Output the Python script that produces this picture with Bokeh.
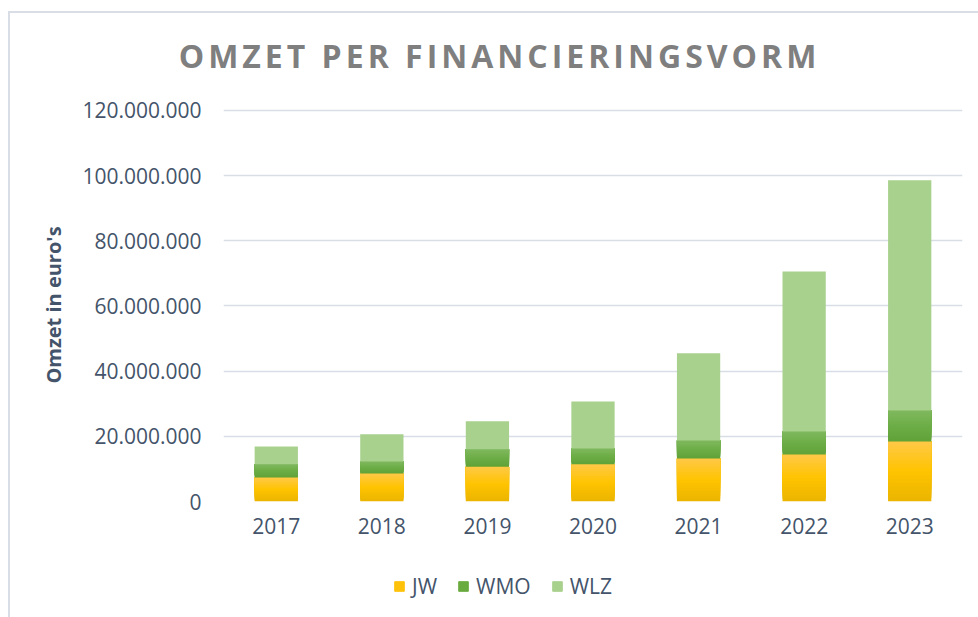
from bokeh.plotting import figure
from bokeh.layouts import column
from bokeh.models import (ColumnDataSource, Range1d, FixedTicker, Legend, LegendItem, Div)
from bokeh.embed import file_html
from bokeh.resources import INLINE

# ---- data ----
title_text = "OMZET PER FINANCIERINGSVORM"
y_label = "Omzet in euro's"
years = ["2017", "2018", "2019", "2020", "2021", "2022", "2023"]
jw = [7_400_000, 8_600_000, 10_700_000, 11_400_000, 13_200_000, 14_400_000, 18_400_000]
wmo = [4_000_000, 3_700_000, 5_300_000, 4_900_000, 5_500_000, 7_100_000, 9_500_000]
wlz = [5_500_000, 8_300_000, 8_600_000, 14_400_000, 26_800_000, 49_100_000, 70_700_000]
series = ["JW", "WMO", "WLZ"]
y_ticks = [0, 20_000_000, 40_000_000, 60_000_000, 80_000_000, 100_000_000, 120_000_000]
y_tick_labels = ["0", "20.000.000", "40.000.000", "60.000.000", "80.000.000",
                 "100.000.000", "120.000.000"]

# ---- styles ----
legend_colors = ["#ffc20a", "#6aab3f", "#a9d18e"]
# gradient stops (bottom, middle, top) for each series
grad_stops = {
    "JW": ["#eab400", "#ffc400", "#ffc848"],
    "WMO": ["#60a238", "#6dad47", "#80b85e"],
    "WLZ": ["#a9d18e", "#a9d18e", "#a9d18e"],
}
text_color = "#44546a"
N_SLICES = 16


def _hex2rgb(h):
    h = h.lstrip("#")
    return [int(h[i:i + 2], 16) for i in (0, 2, 4)]


def _grad(stops, t):
    a, b, u = (stops[0], stops[1], t / 0.5) if t <= 0.5 else (stops[1], stops[2], (t - 0.5) / 0.5)
    ca, cb = _hex2rgb(a), _hex2rgb(b)
    return "#%02x%02x%02x" % tuple(round(ca[k] + (cb[k] - ca[k]) * u) for k in range(3))


# stacked segments; each segment is layered from bottom up to imitate the gradient fill
seg = dict(year=[], bottom=[], top=[], color=[])
values = {"JW": jw, "WMO": wmo, "WLZ": wlz}
for i, yr in enumerate(years):
    base = 0
    for s in series:
        h = values[s][i]
        n = 1 if s == "WLZ" else N_SLICES
        for k in range(n):
            seg["year"].append(yr)
            seg["bottom"].append(base + h * k / n)
            seg["top"].append(base + h)
            seg["color"].append(_grad(grad_stops[s], (k + 0.5) / n))
        base += h
seg_source = ColumnDataSource(seg)
source = ColumnDataSource(data=dict(year=years, JW=jw, WMO=wmo, WLZ=wlz))

# ---- title ----
title_div = Div(
    text=('<div style="font-family:\'Open Sans\';font-weight:700;font-size:32px;'
          'letter-spacing:4px;color:#7f7f7f;text-align:center;line-height:32px;'
          'padding-top:27px;padding-left:11px;white-space:nowrap;width:968px;'
          'box-sizing:border-box;">' + title_text + '</div>'),
    width=968, height=80, margin=0)

# ---- main chart ----
p = figure(x_range=years, y_range=Range1d(0, 120_600_000),
           width=968, height=458, output_backend="svg", toolbar_location=None,
           min_border_left=213, min_border_right=16, min_border_top=15,
           min_border_bottom=50)

p.vbar(x="year", bottom="bottom", top="top", width=0.41, fill_color="color",
       line_color=None, source=seg_source)

p.outline_line_color = None
p.xgrid.grid_line_color = None
p.ygrid.grid_line_color = "#d9dee6"
p.ygrid.grid_line_width = 1.5

p.yaxis.ticker = FixedTicker(ticks=y_ticks)
p.yaxis.major_label_overrides = dict(zip(y_ticks, y_tick_labels))
p.yaxis.axis_label = y_label
p.yaxis.axis_label_text_font = "Open Sans"
p.yaxis.axis_label_text_font_style = "bold"
p.yaxis.axis_label_text_font_size = "20px"
p.yaxis.axis_label_text_color = text_color
p.yaxis.axis_label_standoff = 12
p.yaxis.major_label_standoff = 22

for ax in (p.xaxis[0], p.yaxis[0]):
    ax.axis_line_color = None
    ax.major_tick_line_color = None
    ax.minor_tick_line_color = None
    ax.major_tick_out = 0
    ax.major_tick_in = 0
    ax.major_label_text_font = "Open Sans"
    ax.major_label_text_font_size = "21px"
    ax.major_label_text_color = text_color
p.xaxis.major_label_standoff = 16

# ---- legend strip (same series, hidden renderers) ----
pl = figure(x_range=years, y_range=Range1d(0, 1), width=968, height=66,
            output_backend="svg", toolbar_location=None,
            x_axis_location=None, y_axis_location=None,
            min_border=0, outline_line_color=None)
pl.grid.visible = False
leg_renderers = pl.vbar_stack(series, x="year", width=0.41, color=legend_colors, source=source)
for r in leg_renderers:
    r.visible = False

legend = Legend(items=[LegendItem(label=s, renderers=[r]) for s, r in zip(series, leg_renderers)],
                orientation="horizontal", location=(170, 17), padding=0, margin=0,
                spacing=20, glyph_width=12, glyph_height=12, label_standoff=7,
                label_text_font="Open Sans", label_text_font_size="21px",
                label_text_color=text_color, border_line_color=None,
                background_fill_alpha=0, inactive_fill_alpha=0,
                click_policy="none")
pl.add_layout(legend)

layout = column(title_div, p, pl, spacing=0,
                styles={"margin-left": "8px", "margin-top": "11px",
                        "border-left": "2px solid #d9dee6",
                        "border-top": "2px solid #d9dee6"})

open("out.html", "w").write(file_html(layout, INLINE))
